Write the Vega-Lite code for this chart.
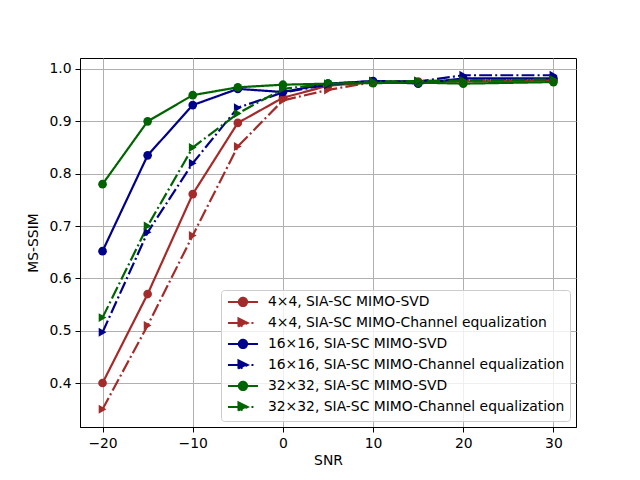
{
  "$schema": "https://vega.github.io/schema/vega-lite/v6.json",
  "autosize": {"type": "none"},
  "padding": {"left": 80, "top": 58, "right": 64, "bottom": 53},
  "width": 496,
  "height": 369,
  "background": "white",
  "config": {
    "font": "DejaVu Sans",
    "view": {"stroke": "black", "strokeWidth": 1},
    "axis": {
      "labelFont": "DejaVu Sans",
      "labelFontSize": 13.9,
      "labelColor": "black",
      "titleFont": "DejaVu Sans",
      "titleFontSize": 13.9,
      "titleFontWeight": "normal",
      "titleColor": "black",
      "domainColor": "black",
      "tickColor": "black",
      "tickSize": 5,
      "labelPadding": 4,
      "gridColor": "#b0b0b0",
      "gridWidth": 1,
      "gridOpacity": 1
    }
  },
  "data": {
    "values": [
      {"snr": -20, "ssim": 0.400, "series": "4×4, SIA-SC MIMO-SVD"},
      {"snr": -15, "ssim": 0.570, "series": "4×4, SIA-SC MIMO-SVD"},
      {"snr": -10, "ssim": 0.761, "series": "4×4, SIA-SC MIMO-SVD"},
      {"snr": -5, "ssim": 0.897, "series": "4×4, SIA-SC MIMO-SVD"},
      {"snr": 0, "ssim": 0.945, "series": "4×4, SIA-SC MIMO-SVD"},
      {"snr": 5, "ssim": 0.968, "series": "4×4, SIA-SC MIMO-SVD"},
      {"snr": 10, "ssim": 0.975, "series": "4×4, SIA-SC MIMO-SVD"},
      {"snr": 15, "ssim": 0.976, "series": "4×4, SIA-SC MIMO-SVD"},
      {"snr": 20, "ssim": 0.976, "series": "4×4, SIA-SC MIMO-SVD"},
      {"snr": 30, "ssim": 0.978, "series": "4×4, SIA-SC MIMO-SVD"},
      {"snr": -20, "ssim": 0.350, "series": "4×4, SIA-SC MIMO-Channel equalization"},
      {"snr": -15, "ssim": 0.510, "series": "4×4, SIA-SC MIMO-Channel equalization"},
      {"snr": -10, "ssim": 0.682, "series": "4×4, SIA-SC MIMO-Channel equalization"},
      {"snr": -5, "ssim": 0.852, "series": "4×4, SIA-SC MIMO-Channel equalization"},
      {"snr": 0, "ssim": 0.940, "series": "4×4, SIA-SC MIMO-Channel equalization"},
      {"snr": 5, "ssim": 0.960, "series": "4×4, SIA-SC MIMO-Channel equalization"},
      {"snr": 10, "ssim": 0.975, "series": "4×4, SIA-SC MIMO-Channel equalization"},
      {"snr": 15, "ssim": 0.977, "series": "4×4, SIA-SC MIMO-Channel equalization"},
      {"snr": 20, "ssim": 0.978, "series": "4×4, SIA-SC MIMO-Channel equalization"},
      {"snr": 30, "ssim": 0.980, "series": "4×4, SIA-SC MIMO-Channel equalization"},
      {"snr": -20, "ssim": 0.652, "series": "16×16, SIA-SC MIMO-SVD"},
      {"snr": -15, "ssim": 0.835, "series": "16×16, SIA-SC MIMO-SVD"},
      {"snr": -10, "ssim": 0.931, "series": "16×16, SIA-SC MIMO-SVD"},
      {"snr": -5, "ssim": 0.962, "series": "16×16, SIA-SC MIMO-SVD"},
      {"snr": 0, "ssim": 0.956, "series": "16×16, SIA-SC MIMO-SVD"},
      {"snr": 5, "ssim": 0.972, "series": "16×16, SIA-SC MIMO-SVD"},
      {"snr": 10, "ssim": 0.977, "series": "16×16, SIA-SC MIMO-SVD"},
      {"snr": 15, "ssim": 0.972, "series": "16×16, SIA-SC MIMO-SVD"},
      {"snr": 20, "ssim": 0.982, "series": "16×16, SIA-SC MIMO-SVD"},
      {"snr": 30, "ssim": 0.982, "series": "16×16, SIA-SC MIMO-SVD"},
      {"snr": -20, "ssim": 0.497, "series": "16×16, SIA-SC MIMO-Channel equalization"},
      {"snr": -15, "ssim": 0.688, "series": "16×16, SIA-SC MIMO-Channel equalization"},
      {"snr": -10, "ssim": 0.820, "series": "16×16, SIA-SC MIMO-Channel equalization"},
      {"snr": -5, "ssim": 0.926, "series": "16×16, SIA-SC MIMO-Channel equalization"},
      {"snr": 0, "ssim": 0.955, "series": "16×16, SIA-SC MIMO-Channel equalization"},
      {"snr": 5, "ssim": 0.970, "series": "16×16, SIA-SC MIMO-Channel equalization"},
      {"snr": 10, "ssim": 0.977, "series": "16×16, SIA-SC MIMO-Channel equalization"},
      {"snr": 15, "ssim": 0.976, "series": "16×16, SIA-SC MIMO-Channel equalization"},
      {"snr": 20, "ssim": 0.988, "series": "16×16, SIA-SC MIMO-Channel equalization"},
      {"snr": 30, "ssim": 0.988, "series": "16×16, SIA-SC MIMO-Channel equalization"},
      {"snr": -20, "ssim": 0.780, "series": "32×32, SIA-SC MIMO-SVD"},
      {"snr": -15, "ssim": 0.900, "series": "32×32, SIA-SC MIMO-SVD"},
      {"snr": -10, "ssim": 0.950, "series": "32×32, SIA-SC MIMO-SVD"},
      {"snr": -5, "ssim": 0.965, "series": "32×32, SIA-SC MIMO-SVD"},
      {"snr": 0, "ssim": 0.970, "series": "32×32, SIA-SC MIMO-SVD"},
      {"snr": 5, "ssim": 0.972, "series": "32×32, SIA-SC MIMO-SVD"},
      {"snr": 10, "ssim": 0.973, "series": "32×32, SIA-SC MIMO-SVD"},
      {"snr": 15, "ssim": 0.974, "series": "32×32, SIA-SC MIMO-SVD"},
      {"snr": 20, "ssim": 0.972, "series": "32×32, SIA-SC MIMO-SVD"},
      {"snr": 30, "ssim": 0.975, "series": "32×32, SIA-SC MIMO-SVD"},
      {"snr": -20, "ssim": 0.525, "series": "32×32, SIA-SC MIMO-Channel equalization"},
      {"snr": -15, "ssim": 0.700, "series": "32×32, SIA-SC MIMO-Channel equalization"},
      {"snr": -10, "ssim": 0.850, "series": "32×32, SIA-SC MIMO-Channel equalization"},
      {"snr": -5, "ssim": 0.915, "series": "32×32, SIA-SC MIMO-Channel equalization"},
      {"snr": 0, "ssim": 0.962, "series": "32×32, SIA-SC MIMO-Channel equalization"},
      {"snr": 5, "ssim": 0.972, "series": "32×32, SIA-SC MIMO-Channel equalization"},
      {"snr": 10, "ssim": 0.976, "series": "32×32, SIA-SC MIMO-Channel equalization"},
      {"snr": 15, "ssim": 0.977, "series": "32×32, SIA-SC MIMO-Channel equalization"},
      {"snr": 20, "ssim": 0.978, "series": "32×32, SIA-SC MIMO-Channel equalization"},
      {"snr": 30, "ssim": 0.980, "series": "32×32, SIA-SC MIMO-Channel equalization"}
    ]
  },
  "encoding": {
    "x": {
      "field": "snr",
      "type": "quantitative",
      "title": "SNR",
      "scale": {"domain": [-22.5, 32.5], "nice": false, "zero": false},
      "axis": {"values": [-20, -10, 0, 10, 20, 30], "titlePadding": 4}
    },
    "y": {
      "field": "ssim",
      "type": "quantitative",
      "title": "MS-SSIM",
      "scale": {"domain": [0.316, 1.021], "nice": false, "zero": false},
      "axis": {"values": [0.4, 0.5, 0.6, 0.7, 0.8, 0.9, 1.0], "format": ".1f", "titlePadding": 8}
    },
    "color": {
      "field": "series",
      "type": "nominal",
      "scale": {
        "domain": [
          "4×4, SIA-SC MIMO-SVD",
          "4×4, SIA-SC MIMO-Channel equalization",
          "16×16, SIA-SC MIMO-SVD",
          "16×16, SIA-SC MIMO-Channel equalization",
          "32×32, SIA-SC MIMO-SVD",
          "32×32, SIA-SC MIMO-Channel equalization"
        ],
        "range": ["#a52a2a", "#a52a2a", "#00008b", "#00008b", "#006400", "#006400"]
      },
      "legend": {
        "title": null,
        "orient": "bottom-right",
        "offset": 6,
        "padding": 5,
        "fillColor": "rgba(255,255,255,0.8)",
        "strokeColor": "#cccccc",
        "cornerRadius": 3,
        "labelFont": "DejaVu Sans",
        "labelFontSize": 13.9,
        "labelColor": "black",
        "labelLimit": 400,
        "symbolSize": 100,
        "labelOffset": 28,
        "rowPadding": 3,
        "encode": {
          "symbols": {
            "update": {
              "shape": {"signal": "indexof(datum.value, 'Channel') >= 0 ? 'M-1,0L1.2,0M1.1,-0.9L2.95,0L1.1,0.9ZM3.7,0L4.1,0' : 'M-1,0L5,0M1.17,0A0.83,0.83,0,1,1,2.83,0A0.83,0.83,0,1,1,1.17,0Z'"},
              "fill": {"scale": "color", "field": "value"},
              "stroke": {"scale": "color", "field": "value"},
              "strokeWidth": {"value": 2},
              "fillOpacity": {"value": 1},
              "opacity": {"value": 1}
            }
          }
        }
      }
    }
  },
  "layer": [
    {
      "mark": {"type": "line", "strokeWidth": 2.2},
      "encoding": {
        "strokeDash": {
          "field": "series",
          "type": "nominal",
          "scale": {
            "domain": [
              "4×4, SIA-SC MIMO-SVD",
              "4×4, SIA-SC MIMO-Channel equalization",
              "16×16, SIA-SC MIMO-SVD",
              "16×16, SIA-SC MIMO-Channel equalization",
              "32×32, SIA-SC MIMO-SVD",
              "32×32, SIA-SC MIMO-Channel equalization"
            ],
            "range": [[1, 0], [12.8, 3.2, 2, 3.2], [1, 0], [12.8, 3.2, 2, 3.2], [1, 0], [12.8, 3.2, 2, 3.2]]
          },
          "legend": null
        }
      }
    },
    {
      "transform": [{"filter": "indexof(datum.series, 'SVD') >= 0"}],
      "mark": {"type": "point", "shape": "circle", "filled": true, "size": 75, "opacity": 1}
    },
    {
      "transform": [{"filter": "indexof(datum.series, 'Channel') >= 0"}],
      "mark": {"type": "point", "shape": "triangle-right", "filled": true, "size": 80, "opacity": 1}
    }
  ]
}
